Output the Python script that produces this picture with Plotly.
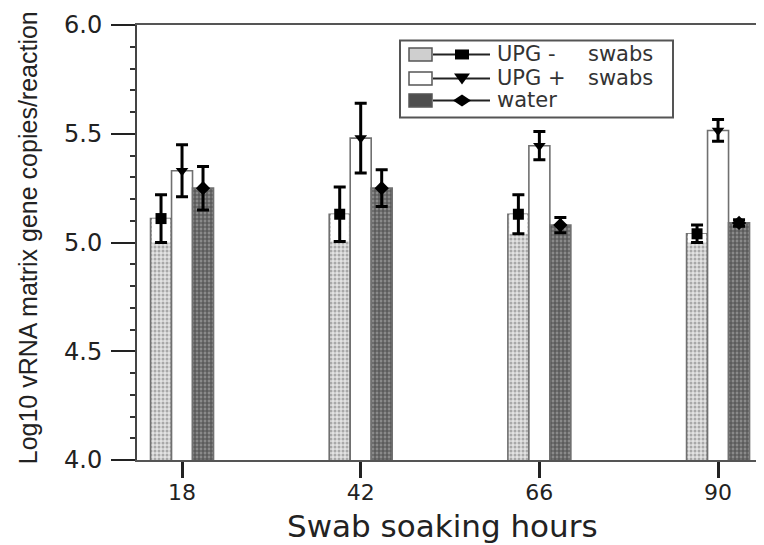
import plotly.graph_objects as go

# ---- data ----
hours = ["18", "42", "66", "90"]
upg_minus = [5.11, 5.13, 5.13, 5.04]
upg_minus_err = [0.11, 0.125, 0.09, 0.04]
upg_plus = [5.33, 5.48, 5.445, 5.515]
upg_plus_err = [0.12, 0.16, 0.065, 0.05]
water = [5.25, 5.25, 5.08, 5.09]
water_err = [0.10, 0.085, 0.035, 0.015]
series_names = ["UPG -", "UPG +", "water"]

# ---- layout geometry (page pixels; page has an 8px body margin) ----
OFF = 8
W, H = 756, 537
PL, PR, PT, PB = 137, 762, 24.5, 460      # plot box in page pixels
L = PL - OFF
R = W - (PR - OFF)
T = PT - OFF
B = H - (PB - OFF)
PW, PH = PR - PL, PB - PT

def px_x(p):
    return (p - PL) / PW

def px_y(p):
    return (PB - p) / PH

idx = list(range(len(hours)))
bw = 0.1175
offsets = [-bw, 0.0, bw]

fig = go.Figure()

series = [
    (upg_minus, upg_minus_err, dict(shape=".", fgcolor="#6e6e6e", bgcolor="#e2e2e2", size=4, solidity=0.45), "square"),
    (upg_plus, upg_plus_err, None, "triangle-down"),
    (water, water_err, dict(shape="+", fgcolor="#151515", bgcolor="#8a8a8a", size=4, solidity=0.5), "diamond"),
]

for k, (vals, errs, pat, sym) in enumerate(series):
    xs = [i + offsets[k] for i in idx]
    marker = dict(color="white", line=dict(color="#707070", width=1.6))
    if pat is not None:
        marker["pattern"] = pat
    fig.add_trace(go.Bar(x=xs, y=vals, width=bw, marker=marker, showlegend=False,
                         name=series_names[k]))
    if k == 0:
        # white band within the lower error range (as in the original print)
        fig.add_trace(go.Bar(x=xs, y=errs, base=[v - e for v, e in zip(vals, errs)],
                             width=bw * 0.86, marker=dict(color="white", line=dict(width=0)),
                             showlegend=False, hoverinfo="skip"))

for k, (vals, errs, pat, sym) in enumerate(series):
    xs = [i + offsets[k] for i in idx]
    fig.add_trace(go.Scatter(
        x=xs, y=vals, mode="markers",
        marker=dict(symbol=sym, color="black", size=11),
        error_y=dict(type="data", array=errs, color="black", thickness=3, width=6),
        showlegend=False, name=series_names[k]))

ytick_font = dict(family="DejaVu Sans", size=24, color="#222")
xtick_font = dict(family="DejaVu Sans", size=22, color="#222")

fig.update_layout(
    width=W, height=H,
    margin=dict(l=L, r=R, t=T, b=B, autoexpand=False),
    paper_bgcolor="white", plot_bgcolor="white",
    barmode="overlay",
    showlegend=False,
    xaxis=dict(
        range=[-0.252, 3.246],
        tickmode="array", tickvals=idx, ticktext=hours,
        ticks="outside", ticklen=16, tickwidth=2.5, tickcolor="#222",
        showline=True, linecolor="#555", linewidth=2, mirror=True,
        showgrid=False, zeroline=False,
        tickfont=xtick_font, ticklabelstandoff=-4, automargin=False,
    ),
    yaxis=dict(
        range=[4.0, 6.0],
        tickmode="linear", tick0=4.0, dtick=0.5, tickformat=".1f",
        ticks="outside", ticklen=24, tickwidth=2, tickcolor="#222",
        minor=dict(dtick=0.1, ticks="outside", ticklen=5, tickwidth=2, tickcolor="#333"),
        showline=True, linecolor="#444", linewidth=2, mirror=True,
        showgrid=False, zeroline=False,
        tickfont=ytick_font, ticklabelstandoff=4, automargin=False,
    ),
)

# axis titles
fig.add_annotation(text="Swab soaking hours", xref="paper", yref="paper",
                   x=px_x(442), y=px_y(526), xanchor="center", yanchor="middle", showarrow=False,
                   font=dict(family="DejaVu Sans", size=31, color="#222"))
fig.add_annotation(text="Log10 vRNA matrix gene copies/reaction", xref="paper", yref="paper",
                   x=px_x(28), y=px_y(238), xanchor="center", yanchor="middle",
                   showarrow=False, textangle=-90,
                   font=dict(family="Liberation Sans, Arial", size=25, color="#222"))

# ---- legend (drawn manually) ----
shapes = []
shapes.append(dict(type="rect", xref="paper", yref="paper",
                   x0=px_x(400), x1=px_x(673), y0=px_y(117), y1=px_y(40),
                   line=dict(color="#555", width=2), fillcolor="white", layer="above"))
rows = [54, 78, 100]
sw_fill = ["#cfcfcf", "white", "#4e4e4e"]
for r, fc in zip(rows, sw_fill):
    shapes.append(dict(type="rect", xref="paper", yref="paper",
                       x0=px_x(409), x1=px_x(432), y0=px_y(r + 6.5), y1=px_y(r - 6.5),
                       line=dict(color="#555", width=1.5), fillcolor=fc, layer="above"))
    shapes.append(dict(type="line", xref="paper", yref="paper",
                       x0=px_x(433), x1=px_x(490), y0=px_y(r), y1=px_y(r),
                       line=dict(color="#222", width=2), layer="above"))
mx = 462
shapes.append(dict(type="rect", xref="paper", yref="paper",
                   x0=px_x(mx - 7), x1=px_x(mx + 7), y0=px_y(rows[0] + 5), y1=px_y(rows[0] - 5),
                   line=dict(width=0), fillcolor="black", layer="above"))
r = rows[1]
shapes.append(dict(type="path", xref="paper", yref="paper",
                   path=f"M {px_x(mx-8)} {px_y(r-5)} L {px_x(mx+8)} {px_y(r-5)} L {px_x(mx)} {px_y(r+6)} Z",
                   line=dict(width=0), fillcolor="black", layer="above"))
r = rows[2]
shapes.append(dict(type="path", xref="paper", yref="paper",
                   path=f"M {px_x(mx-9)} {px_y(r)} L {px_x(mx)} {px_y(r-6)} L {px_x(mx+9)} {px_y(r)} L {px_x(mx)} {px_y(r+6)} Z",
                   line=dict(width=0), fillcolor="black", layer="above"))
fig.update_layout(shapes=shapes)

leg_font = dict(family="DejaVu Sans", size=21, color="#333")
legend_texts = [("UPG -", "swabs"), ("UPG +", "swabs"), ("water", None)]
for r, (t1, t2) in zip(rows, legend_texts):
    fig.add_annotation(text=t1, xref="paper", yref="paper", x=px_x(495), y=px_y(r),
                       xanchor="left", yanchor="middle", showarrow=False, font=leg_font)
    if t2:
        fig.add_annotation(text=t2, xref="paper", yref="paper", x=px_x(586), y=px_y(r),
                           xanchor="left", yanchor="middle", showarrow=False, font=leg_font)

fig.write_html("out.html")
